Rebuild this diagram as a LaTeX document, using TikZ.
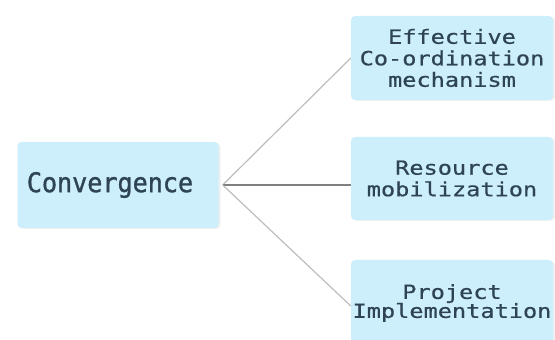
\documentclass[tikz,border=0pt]{standalone}
\usepackage{fontspec}
\setmainfont{DejaVu Sans Mono}[FakeStretch=1.21, FakeBold=0.6]
\newfontfamily\convfont{DejaVu Sans Mono}[FakeStretch=0.93, FakeBold=1.2]
\usetikzlibrary{shadows}
\definecolor{boxfill}{HTML}{CDEEFB}
\definecolor{boxtext}{HTML}{2E4454}
\definecolor{linkgray}{HTML}{BDBDBD}
\tikzset{
  box/.style={draw=none, fill=boxfill, rounded corners=4pt, text=boxtext,
    align=center, inner sep=0pt,
    drop shadow={shadow xshift=2pt, shadow yshift=-1pt, opacity=0.12}},
  smallbox/.style={box, minimum width=202pt, minimum height=84pt,
    font=\fontsize{19.5pt}{21.5pt}\selectfont},
  link/.style={draw=linkgray, line width=1.2pt}
}
\begin{document}
\begin{tikzpicture}[x=1pt,y=1pt]
\useasboundingbox (0,0) rectangle (555,340);
\node[box, minimum width=201pt, minimum height=86pt,
  font=\convfont\fontsize{27pt}{30pt}\selectfont] (conv) at (118,155) {Convergence\hspace{16pt}};
\node[smallbox] (e1) at (452,282) {Effective\\Co-ordination\\mechanism};
\node[smallbox, minimum height=83pt] (e2) at (452,161.5) {Resource\\mobilization};
\begin{scope}
\clip (0,0) rectangle (555,340);
\node[smallbox, minimum height=86pt] (e3) at (452,37) {\raisebox{4pt}{\shortstack{Project\\[-3pt]Implementation}}};
\end{scope}
\coordinate (j) at ([xshift=4pt]conv.east);
\draw[link] (j) -- (e1.west);
\draw[link, draw=gray] (j) -- (e2.west |- j);
\draw[link] (j) -- ([yshift=-3pt]e3.west);
\end{tikzpicture}
\end{document}
